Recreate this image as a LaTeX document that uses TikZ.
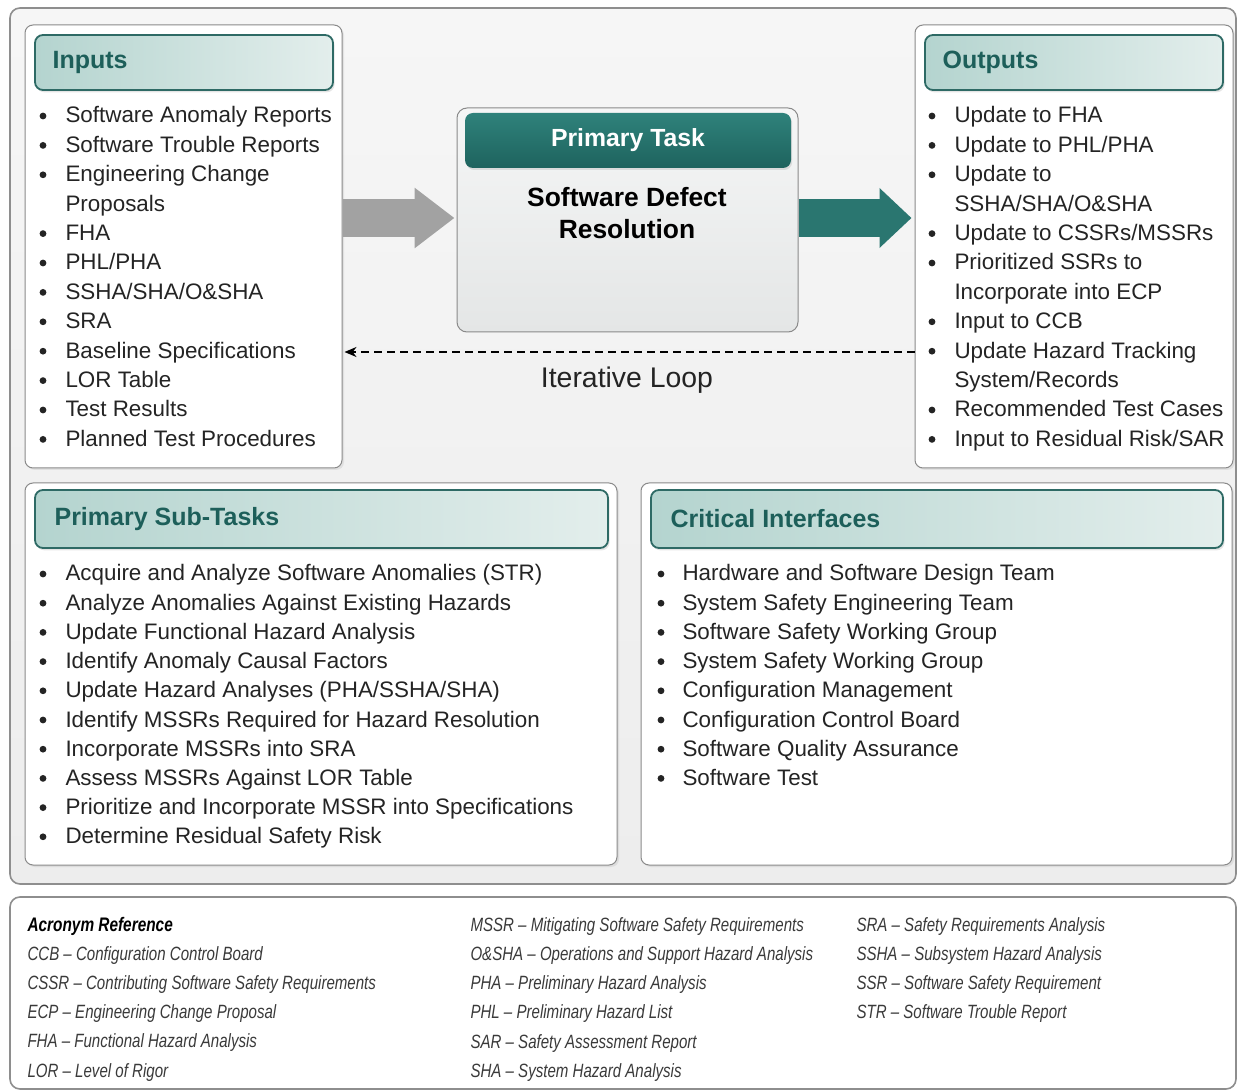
\documentclass[tikz,border=0pt]{standalone}
\usepackage{fontspec}
\setmainfont{Liberation Sans}
\newfontfamily\acrfont[FakeStretch=0.785]{Liberation Sans}
\usetikzlibrary{arrows.meta,positioning,calc,fit,shadows}

\definecolor{tealdark}{HTML}{1D5F5A}
\definecolor{tealmid}{HTML}{2F827B}
\definecolor{tealdeep}{HTML}{1E635E}
\definecolor{headline}{HTML}{2E6A65}
\definecolor{headA}{HTML}{B4D4CF}
\definecolor{headB}{HTML}{E3EEEC}
\definecolor{framegray}{HTML}{8E8E8E}
\definecolor{frametop}{HTML}{F6F6F6}
\definecolor{framebot}{HTML}{EDEDED}
\definecolor{panelgray}{HTML}{8A8A8A}
\definecolor{taskA}{HTML}{F5F6F6}
\definecolor{taskB}{HTML}{E4E6E6}
\definecolor{arrowgray}{HTML}{A2A2A2}
\definecolor{arrowteal}{HTML}{2A7670}
\definecolor{textcol}{HTML}{242424}
\definecolor{acrcol}{HTML}{3A3A3A}

\begin{document}
\begin{tikzpicture}[x=.5pt,y=-.5pt,font=\fontsize{11.2}{13}\selectfont,line width=.5pt,
 outerbox/.style={draw=framegray,line width=.8pt,rounded corners=5pt,top color=frametop,bottom color=framebot,inner sep=0pt},
 panel/.style={draw=panelgray,fill=white,rounded corners=4pt,inner sep=0pt,drop shadow={opacity=.15,shadow xshift=1pt,shadow yshift=-1pt}},
 head/.style={draw=headline,line width=.9pt,rounded corners=4pt,inner sep=0pt,left color=headA,right color=headB,drop shadow={opacity=.2,shadow xshift=.8pt,shadow yshift=-1.2pt}},
 headtxt/.style={anchor=west,inner sep=0pt,text=tealdark,font=\fontsize{12.5}{14}\selectfont\bfseries},
 taskbox/.style={draw=panelgray,rounded corners=5pt,inner sep=0pt,top color=taskA,bottom color=taskB},
 taskhead/.style={rounded corners=4pt,inner sep=0pt,top color=tealmid,bottom color=tealdeep,drop shadow={opacity=.2,shadow xshift=.6pt,shadow yshift=-1pt}},
 item/.style={anchor=base west,inner sep=0pt,text=textcol},
 acr/.style={anchor=base west,inner sep=0pt,text=acrcol,font=\acrfont\itshape\fontsize{9.6}{11}\selectfont},
 bigarrow/.style={line width=19pt,-{Triangle[length=20pt,width=29pt]}},
]
\useasboundingbox (0,0) rectangle (1239,1091);

% frames
\node[outerbox,fit={(10,8) (1236,884)}] (main) {};
\node[draw=framegray,line width=.8pt,fill=white,rounded corners=5pt,inner sep=0pt,fit={(10,897) (1236,1089)}] (acro) {};

% panels
\node[panel,fit={(25,25) (342,468)}] (inputs) {};
\node[panel,fit={(915,25) (1233,468)}] (outputs) {};
\node[panel,fit={(25,483) (617,865)}] (subtasks) {};
\node[panel,fit={(641,483) (1232,865)}] (crit) {};

\node[head,fit={(35,35) (333,90)}] (inhead) {};
\node[head,fit={(925,35) (1223,90)}] (outhead) {};
\node[head,fit={(35,490) (608,548)}] (subhead) {};
\node[head,fit={(651,490) (1223,548)}] (crithead) {};

\node[headtxt] (inlbl) at ([xshift=9pt]inhead.west) {Inputs};
\node[headtxt] (outlbl) at ([xshift=9pt]outhead.west) {Outputs};
\node[headtxt] (sublbl) at ([xshift=10pt]subhead.west) {Primary Sub-Tasks};
\node[headtxt] (critlbl) at ([xshift=10pt]crithead.west) {Critical Interfaces};

% primary task
\node[taskbox,fit={(457,108) (798,332)}] (task) {};
\node[taskhead,fit={(465,113) (791,168)}] (taskhd) {};
\node[text=white,font=\fontsize{12.4}{14}\selectfont\bfseries] (tasklbl) at (taskhd) {Primary Task};
\node[align=center,text=black,font=\fontsize{13.2}{16}\selectfont\bfseries] (tasktitle) at (627,213) {Software Defect\\Resolution};

% arrows
\coordinate (arry) at (0,218);
\coordinate (loopy) at (0,352);
\draw[bigarrow,arrowgray] (inputs.east |- arry) -- ([xshift=-1pt]task.west |- arry);
\draw[bigarrow,arrowteal,-{Triangle[length=16pt,width=29pt]}] (task.east |- arry) -- ([xshift=-1.5pt]outputs.west |- arry);
\draw[dashed,line width=1pt,dash pattern=on 4pt off 2.5pt,-{Stealth[length=6pt,width=5pt]}] (outputs.west |- loopy) -- ([xshift=1pt]inputs.east |- loopy);
\node[font=\fontsize{14.2}{16}\selectfont,text=textcol] (looplbl) at (627,380) {Iterative Loop};

% lists
\foreach \b/\txt [count=\row] in {1/Software Anomaly Reports,1/Software Trouble Reports,1/Engineering Change,0/Proposals,1/FHA,1/{PHL/PHA},1/{SSHA/SHA/O\&SHA},1/SRA,1/Baseline Specifications,1/LOR Table,1/Test Results,1/Planned Test Procedures}{
 \node[item] (in\row) at (65,{123+29.4*(\row-1)}) {\txt};
 \ifnum\b=1 \fill[textcol] (43,{116+29.4*(\row-1)}) circle (1.7pt);\fi
}
\foreach \b/\txt [count=\row] in {1/Update to FHA,1/{Update to PHL/PHA},1/Update to,0/{SSHA/SHA/O\&SHA},1/{Update to CSSRs/MSSRs},1/Prioritized SSRs to,0/Incorporate into ECP,1/Input to CCB,1/Update Hazard Tracking,0/{System/Records},1/Recommended Test Cases,1/{Input to Residual Risk/SAR}}{
 \node[item] (out\row) at (954,{123+29.4*(\row-1)}) {\txt};
 \ifnum\b=1 \fill[textcol] (932,{116+29.4*(\row-1)}) circle (1.7pt);\fi
}
\foreach \txt [count=\row] in {Acquire and Analyze Software Anomalies (STR),Analyze Anomalies Against Existing Hazards,Update Functional Hazard Analysis,Identify Anomaly Causal Factors,{Update Hazard Analyses (PHA/SSHA/SHA)},Identify MSSRs Required for Hazard Resolution,Incorporate MSSRs into SRA,Assess MSSRs Against LOR Table,Prioritize and Incorporate MSSR into Specifications,Determine Residual Safety Risk}{
 \node[item] (sub\row) at (65,{581+29.2*(\row-1)}) {\txt};
 \fill[textcol] (43,{574+29.2*(\row-1)}) circle (1.7pt);
}
\foreach \txt [count=\row] in {Hardware and Software Design Team,System Safety Engineering Team,Software Safety Working Group,System Safety Working Group,Configuration Management,Configuration Control Board,Software Quality Assurance,Software Test}{
 \node[item] (crit\row) at (682,{581+29.2*(\row-1)}) {\txt};
 \fill[textcol] (661,{574+29.2*(\row-1)}) circle (1.7pt);
}

% acronyms
\node[acr,font=\acrfont\itshape\bfseries\fontsize{9.8}{11}\selectfont,text=black] (acrhd) at (27,931) {Acronym Reference};
\foreach \txt [count=\row] in {CCB – Configuration Control Board,CSSR – Contributing Software Safety Requirements,ECP – Engineering Change Proposal,FHA – Functional Hazard Analysis,LOR – Level of Rigor}{
 \node[acr] (acra\row) at (27,{960+29.3*(\row-1)}) {\txt};
}
\foreach \txt [count=\row] in {MSSR – Mitigating Software Safety Requirements,O\&SHA – Operations and Support Hazard Analysis,PHA – Preliminary Hazard Analysis,PHL – Preliminary Hazard List,SAR – Safety Assessment Report,SHA – System Hazard Analysis}{
 \node[acr] (acrb\row) at (470,{931+29.3*(\row-1)}) {\txt};
}
\foreach \txt [count=\row] in {SRA – Safety Requirements Analysis,SSHA – Subsystem Hazard Analysis,SSR – Software Safety Requirement,STR – Software Trouble Report}{
 \node[acr] (acrc\row) at (856,{931+29.3*(\row-1)}) {\txt};
}
\end{tikzpicture}
\end{document}
